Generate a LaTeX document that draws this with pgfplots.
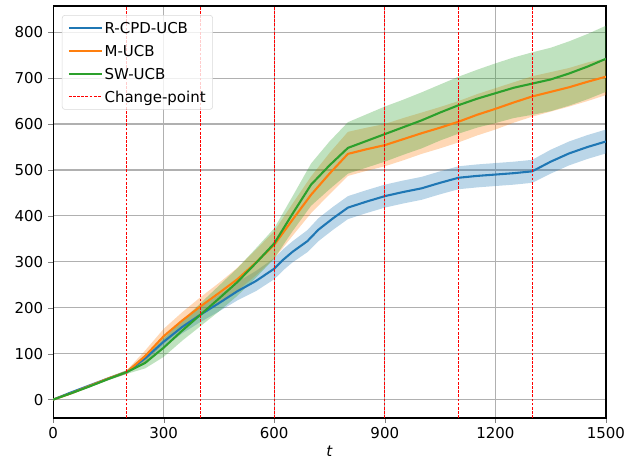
\documentclass[border=0pt]{standalone}
\usepackage{fontspec}
\setmainfont{DejaVu Sans}
\usepackage{pgfplots}
\pgfplotsset{compat=1.18}
\usepackage{pgfplotstable}
\usepgfplotslibrary{fillbetween}

\definecolor{tabblue}{RGB}{31,119,180}
\definecolor{taborange}{RGB}{255,127,14}
\definecolor{tabgreen}{RGB}{44,160,44}
\definecolor{gridgray}{RGB}{176,176,176}
\definecolor{cpred}{RGB}{255,0,0}

% t, mean, half width of band
\pgfplotstableread{
t m w
0 0 0
50 16 2
100 31 3
150 46 3
200 60 4
250 90 8
300 126 12
350 158 14
400 185 16
450 210 18
500 236 20
550 258 22
600 285 23
625 305 23
650 322 23
690 345 24
720 370 25
760 395 25
800 418 25
850 431 25
900 443 25
950 452 25
1000 460 25
1050 472 25
1100 483 25
1150 487 25
1200 490 25
1250 493 25
1300 497 25
1350 518 26
1400 536 26
1450 550 26
1500 562 26
}\rcpd

\pgfplotstableread{
t m w
0 0 0
50 14 1
100 30 2
150 46 3
200 60 4
250 95 12
300 138 16
350 172 18
400 203 20
450 232 22
500 262 25
550 298 28
600 337 30
650 392 35
700 446 40
750 492 45
800 535 48
850 545 47
900 554 46
950 567 46
1000 580 45
1050 592 45
1100 605 45
1150 620 45
1200 633 45
1250 647 44
1300 660 44
1350 670 43
1400 680 42
1450 692 42
1500 703 40
}\mucb

\pgfplotstableread{
t m w
0 0 0
50 14 1
100 29 2
150 45 3
200 60 4
250 80 12
300 113 20
350 150 22
400 185 25
450 220 28
500 256 30
550 297 32
600 340 33
650 405 38
700 468 46
750 510 52
800 548 56
850 563 58
900 578 60
950 593 60
1000 608 61
1050 625 61
1100 641 62
1150 655 63
1200 667 65
1250 679 66
1300 688 68
1350 697 69
1400 710 70
1450 725 71
1500 742 72
}\swucb

\begin{document}
\begin{tikzpicture}
\begin{axis}[
scale only axis,
width=398pt, height=296.6pt,
xmin=0, xmax=1500,
ymin=-40, ymax=857,
xtick={0,300,600,900,1200,1500},
ytick={0,100,200,300,400,500,600,700,800},
tick align=outside,
tick pos=left,
major tick length=3.5pt,
axis line style={line width=0.8pt},
/pgf/number format/assume math mode=true,
/pgf/number format/1000 sep={},
grid=major,
grid style={gridgray, line width=0.8pt},
xlabel={\textit{t}},
tick label style={font=\fontsize{10.8}{13}\selectfont},
label style={font=\fontsize{10.8}{13}\selectfont},
xlabel style={yshift=2pt},
legend style={at={(0.016,0.978)}, anchor=north west, draw=gray!30, rounded corners=2pt, fill=white, fill opacity=0.8, text opacity=1, font=\fontsize{10.8}{13}\selectfont, row sep=6.5pt, inner xsep=4pt, inner ysep=4pt, nodes={inner sep=1pt, text depth=0pt}},
legend cell align=left,
legend image code/.code={\draw[#1] (0pt,0pt) -- (24pt,0pt);},
]
% bands
\addplot[name path=bh, draw=none, forget plot] table[x=t, y expr=\thisrow{m}+\thisrow{w}] {\rcpd};
\addplot[name path=bl, draw=none, forget plot] table[x=t, y expr=\thisrow{m}-\thisrow{w}] {\rcpd};
\addplot[tabblue, fill opacity=0.3, draw=none, forget plot] fill between[of=bh and bl];
\addplot[name path=oh, draw=none, forget plot] table[x=t, y expr=\thisrow{m}+\thisrow{w}] {\mucb};
\addplot[name path=ol, draw=none, forget plot] table[x=t, y expr=\thisrow{m}-\thisrow{w}] {\mucb};
\addplot[taborange, fill opacity=0.3, draw=none, forget plot] fill between[of=oh and ol];
\addplot[name path=gh, draw=none, forget plot] table[x=t, y expr=\thisrow{m}+\thisrow{w}] {\swucb};
\addplot[name path=gl, draw=none, forget plot] table[x=t, y expr=\thisrow{m}-\thisrow{w}] {\swucb};
\addplot[tabgreen, fill opacity=0.3, draw=none, forget plot] fill between[of=gh and gl];
% means
\addplot[tabblue, line width=1.5pt] table[x=t, y=m] {\rcpd};
\addlegendentry{R-CPD-UCB}
\addplot[taborange, line width=1.5pt] table[x=t, y=m] {\mucb};
\addlegendentry{M-UCB}
\addplot[tabgreen, line width=1.5pt] table[x=t, y=m] {\swucb};
\addlegendentry{SW-UCB}
% change points
\addplot[cpred, line width=0.6pt, dash pattern=on 2pt off 1pt] coordinates {(200,-40) (200,857)};
\addlegendentry{Change-point}
\addplot[cpred, line width=0.6pt, dash pattern=on 2pt off 1pt, forget plot] coordinates {(400,-40) (400,857)};
\addplot[cpred, line width=0.6pt, dash pattern=on 2pt off 1pt, forget plot] coordinates {(600,-40) (600,857)};
\addplot[cpred, line width=0.6pt, dash pattern=on 2pt off 1pt, forget plot] coordinates {(900,-40) (900,857)};
\addplot[cpred, line width=0.6pt, dash pattern=on 2pt off 1pt, forget plot] coordinates {(1100,-40) (1100,857)};
\addplot[cpred, line width=0.6pt, dash pattern=on 2pt off 1pt, forget plot] coordinates {(1300,-40) (1300,857)};
\end{axis}
\path (current axis.south west) ++(-38.2pt,-34.6pt) coordinate (bbll);
\path (current axis.north east) ++(23.8pt,4.3pt) coordinate (bbur);
\path (bbll) rectangle (bbur);
\end{tikzpicture}
\end{document}
